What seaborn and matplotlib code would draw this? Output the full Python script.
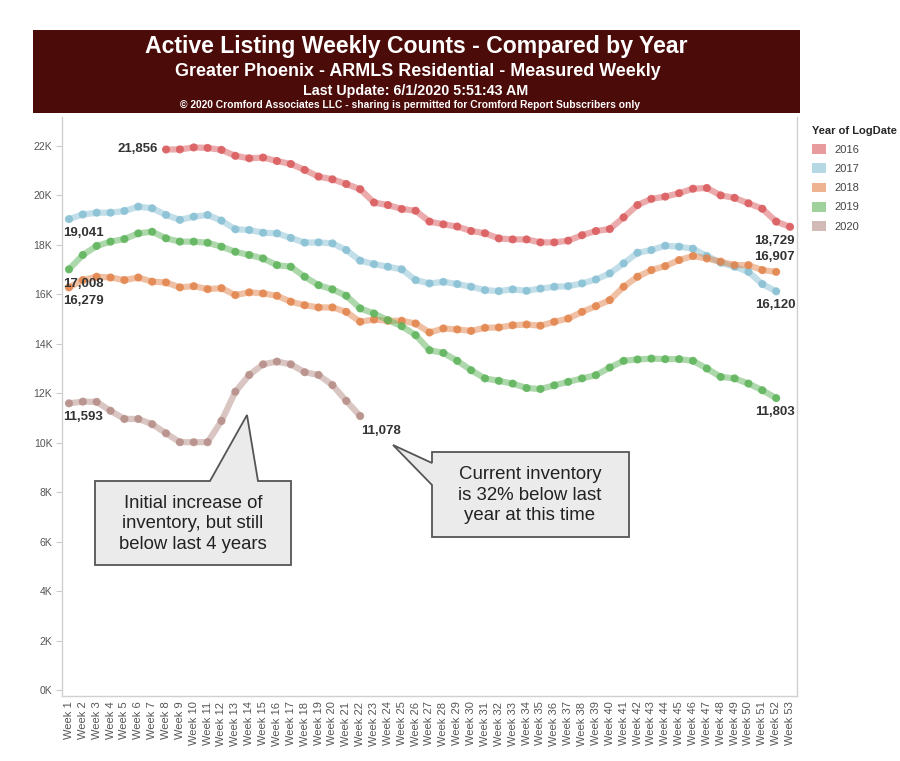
import numpy as np
import pandas as pd
import matplotlib
matplotlib.use("Agg")
import matplotlib.pyplot as plt
import matplotlib.transforms as mtransforms
from matplotlib.patches import Polygon, Rectangle, Patch
import seaborn as sns

# data (weekly active listings)
weeks = [f"Week {i}" for i in range(1, 54)]
years = ["2016", "2017", "2018", "2019", "2020"]

y2016 = [np.nan] * 7 + [
    21856, 21860, 21940, 21920, 21840, 21600, 21500, 21530, 21390, 21270,
    21030, 20760, 20650, 20460, 20250, 19710, 19610, 19450, 19380, 18940,
    18830, 18740, 18560, 18470, 18260, 18220, 18220, 18100, 18100, 18170,
    18390, 18560, 18640, 19110, 19610, 19860, 19950, 20090, 20270, 20300,
    20000, 19900, 19680, 19460, 18940, 18729]
y2017 = [
    19041, 19230, 19300, 19300, 19370, 19545, 19480, 19210, 19010, 19140,
    19210, 18980, 18630, 18600, 18490, 18465, 18280, 18090, 18100, 18060,
    17790, 17360, 17220, 17115, 17010, 16575, 16440, 16505, 16415, 16305,
    16170, 16130, 16200, 16140, 16230, 16305, 16330, 16440, 16600, 16845,
    17250, 17680, 17790, 17965, 17925, 17845, 17550, 17280, 17115, 16910,
    16415, 16120] + [np.nan]
y2018 = [
    16279, 16575, 16710, 16680, 16575, 16680, 16510, 16480, 16280, 16330,
    16210, 16250, 15970, 16080, 16035, 15940, 15700, 15560, 15470, 15470,
    15290, 14890, 14980, 14930, 14930, 14820, 14455, 14620, 14580, 14520,
    14645, 14660, 14750, 14780, 14730, 14890, 15020, 15290, 15520, 15765,
    16305, 16710, 16980, 17140, 17385, 17550, 17450, 17320, 17180, 17180,
    16980, 16907] + [np.nan]
y2019 = [
    17008, 17590, 17955, 18130, 18235, 18465, 18530, 18265, 18130, 18130,
    18085, 17925, 17720, 17590, 17450, 17180, 17115, 16710, 16370, 16200,
    15940, 15430, 15225, 14955, 14710, 14350, 13740, 13630, 13310, 12930,
    12600, 12500, 12390, 12210, 12170, 12320, 12460, 12600, 12730, 13040,
    13310, 13365, 13400, 13380, 13380, 13310, 13000, 12660, 12600, 12390,
    12120, 11803] + [np.nan]
y2020 = [
    11593, 11660, 11650, 11290, 10960, 10960, 10750, 10380, 10020, 10020,
    10020, 10880, 12060, 12740, 13170, 13280, 13170, 12850, 12740, 12330,
    11690, 11078] + [np.nan] * 31

colors = ["#d9595b", "#86bfd3", "#e3834a", "#5db35a", "#b58d86"]

series = [y2016, y2017, y2018, y2019, y2020]
df = pd.concat([
    pd.DataFrame({"idx": range(len(weeks)), "Week": weeks, "Year": yr, "Count": vals})
    for yr, vals in zip(years, series)
]).dropna()

fig = plt.figure(figsize=(9, 7.61), dpi=100)
sns.set_style("white")
plt.rcParams["font.family"] = ["Liberation Sans", "DejaVu Sans"]

# pixel transform (origin top-left) for banner and callouts
px = mtransforms.Affine2D().scale(1 / 900, -1 / 761).translate(0, 1) + fig.transFigure

ax = fig.add_axes([62 / 900, 1 - 696 / 761, 735 / 900, 579 / 761])
pal = dict(zip(years, colors))
sns.lineplot(data=df, x="idx", y="Count", hue="Year", palette=pal,
             linewidth=4.5, alpha=0.5, legend=False, ax=ax)
sns.scatterplot(data=df, x="idx", y="Count", hue="Year", palette=pal,
                s=34, alpha=0.85, edgecolor="none", legend=False, ax=ax, zorder=3)

ax.set_xlim(-0.43, 52.36)
ax.set_ylim(-243, 23170)
ax.set_xlabel("")
ax.set_ylabel("")

ax.set_xticks(range(len(weeks)))
ax.set_xticklabels(weeks, rotation=90, fontsize=8, color="#555555")
ax.set_xticks(np.arange(-0.5, len(weeks), 1), minor=True)
ax.tick_params(axis="x", which="major", length=0, pad=4)
ax.tick_params(axis="x", which="minor", length=4, color="#cccccc", width=0.8)

yt = np.arange(0, 22001, 2000)
ax.set_yticks(yt)
ax.set_yticklabels([f"{v // 1000}K" for v in yt], fontsize=7.5, color="#555555")
ax.tick_params(axis="y", length=4, color="#cccccc", width=0.8, pad=3, left=True)

for s in ["left", "bottom", "right"]:
    ax.spines[s].set_color("#d0d0d0")
    ax.spines[s].set_linewidth(1)
ax.spines["top"].set_visible(False)

# value labels at the ends of lines
def label(yr, wk, dx, dy, ha):
    vals = dict(zip(years, series))[yr]
    v = vals[wk]
    ax.annotate(f"{int(v):,}", xy=(wk, v), xytext=(dx, dy), textcoords="offset pixels",
                ha=ha, va="center", fontsize=9.5, fontweight="bold", color="#333333")

label("2016", 7, -8, 0, "right")
label("2017", 0, -6, -14, "left")
label("2019", 0, -6, -15, "left")
label("2018", 0, -6, -14, "left")
label("2020", 0, -6, -14, "left")
label("2020", 21, 1, -15, "left")
label("2016", 52, 5, -14, "right")
label("2018", 51, 19, 15, "right")
label("2017", 51, 19, -14, "right")
label("2019", 51, 19, -14, "right")

# callouts
box1 = [(95, 481), (210, 481), (247, 415), (258, 481), (291, 481), (291, 565), (95, 565)]
box2 = [(432, 452), (629, 452), (629, 537), (432, 537), (432, 485), (393, 445), (432, 463)]
for pts in (box1, box2):
    fig.patches.append(Polygon(pts, closed=True, transform=px, facecolor="#ebebeb",
                               edgecolor="#555555", linewidth=1.3, zorder=5))
fig.text(193, 524, "Initial increase of\ninventory, but still\nbelow last 4 years",
         transform=px, ha="center", va="center", fontsize=13.3, color="#222222",
         linespacing=1.3, zorder=6)
fig.text(530, 495, "Current inventory\nis 32% below last\nyear at this time",
         transform=px, ha="center", va="center", fontsize=13.4, color="#222222",
         linespacing=1.3, zorder=6)

# title banner
fig.patches.append(Rectangle((33, 30), 767, 83, transform=px, facecolor="#4b0b09",
                             edgecolor="none", zorder=1))
fig.text(416, 47, "Active Listing Weekly Counts - Compared by Year", transform=px,
         ha="center", va="center", fontsize=16.6, fontweight="bold", color="white")
fig.text(418, 71, "Greater Phoenix - ARMLS Residential - Measured Weekly", transform=px,
         ha="center", va="center", fontsize=12.9, fontweight="bold", color="white")
fig.text(416, 91, "Last Update: 6/1/2020 5:51:43 AM", transform=px,
         ha="center", va="center", fontsize=10.3, fontweight="bold", color="white")
fig.text(410, 105, "\u00a9 2020 Cromford Associates LLC - sharing is permitted for Cromford Report Subscribers only",
         transform=px, ha="center", va="center", fontsize=7.4, fontweight="bold", color="white")

# legend
handles = [Patch(facecolor=c, alpha=0.6, edgecolor="none") for c in colors]
leg = fig.legend(handles, years, title="Year of LogDate", loc="upper left",
                 bbox_to_anchor=(802 / 900, 1 - 116 / 761), frameon=False,
                 fontsize=8, title_fontsize=8, handlelength=1.3, handleheight=1.0,
                 labelspacing=0.75, handletextpad=0.7, alignment="left")
leg.get_title().set_fontweight("bold")
for t in leg.get_texts():
    t.set_color("#444444")

fig.savefig("out.png", dpi=100)
